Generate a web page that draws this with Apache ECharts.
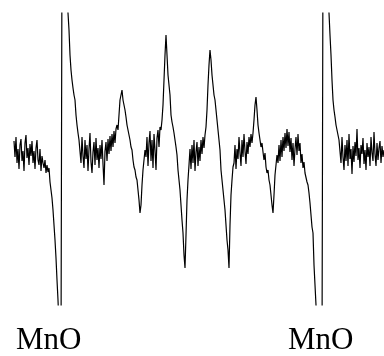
<!DOCTYPE html>
<html>
<head>
<meta charset="utf-8">
<script src="https://cdn.jsdelivr.net/npm/echarts@6/dist/echarts.min.js"></script>
<style>
  html, body { margin: 0; padding: 0; background: #fff; }
  #chart { width: 384px; height: 356px; }
</style>
</head>
<body>
<div id="chart"></div>
<script>
// field axis starts here, one sample per field step
const fieldStart = 14
// EPR signal (arbitrary units, baseline ~ 0)
const signal = [
  // 14..46 noisy baseline
  14, -2, 18, -8, 6, -14, 10, 16, -6, 4, -16, 12, 20, -3, 7, -10, 11, -1, 14, -8, 4, -14, 7, 15, -5, -10, 6, -16, -1, -8, -13, -5, -18,
  // 47..61 first MnO line, low side
  -10, -17, -13, -27, -35, -43, -55, -70, -85, -103, -125, -145, -170, -190, -200,
  // 62..79 high side
  210, 230, 230, 230, 230, 180, 142, 125, 100, 85, 75, 67, 60, 55, 40, 30, 22, 15,
  // 80..116
  13, -8, 18, -1, -13, 15, -4, 10, -16, 6, 22, -7, -18, 3, 13, -10, 17, -5, 7, -13, 10, -4, 15, -9, -30, 4, 13, -6, 16, 1, 19, 4, 21, 8, 24, 12, 26,
  // 117..145 first hyperfine line
  30, 25, 40, 55, 60, 65, 55, 50, 45, 38, 30, 28, 20, 15, 8, 5, -5, -12, -15, -22, -25, -35, -45, -58, -50, -30, -15, -5, 5,
  // 146..160
  -2, 18, -11, 12, 24, -6, 15, -13, 21, 5, -15, 17, 25, 8, 28,
  // 161..189 second line
  25, 35, 50, 75, 100, 120, 100, 80, 70, 60, 40, 33, 28, 22, 15, 8, 0, -15, -25, -35, -50, -65, -78, -100, -113, -80, -45, -25, -10,
  // 190..205
  6, -14, 10, -8, 15, -16, 3, 13, -11, 8, -6, 15, 1, 18, 7, 20,
  // 206..233 third line
  28, 45, 70, 90, 105, 95, 80, 70, 60, 55, 45, 35, 25, 15, 5, -15, -25, -35, -45, -55, -70, -85, -95, -113, -70, -40, -25, -12,
  // 234..253
  -8, 10, -14, 6, -4, 18, 2, -11, 15, -2, 21, 4, -9, 13, 1, 18, 8, 21, 12, 22,
  // 254..277 fourth line
  35, 50, 58, 45, 30, 22, 20, 8, 12, 3, -5, 2, -12, -18, -15, -25, -30, -40, -50, -58, -40, -20, -10, 0,
  // 278..312
  -8, 10, -6, 15, -2, 18, 4, 22, 7, 26, 9, 23, 3, 17, -5, 12, -11, 6, 18, 0, 21, 4, 12, -8, 1, -13, -7, -18, -20, -27, -30, -38, -48, -60, -72,
  // 313..322 second MnO line, low side
  -78, -110, -130, -150, -170, -190, -200, -200, -200, -200,
  // 323..339 high side
  210, 230, 230, 230, 190, 165, 142, 120, 100, 75, 55, 45, 38, 30, 25, 20, 15,
  // 340..384
  13, -8, 18, -2, -15, 10, -6, 15, -11, 21, -4, 6, -19, 9, -7, 13, -1, 26, -5, 7, -13, 10, 1, 17, -9, 5, -15, 12, -2, 8, -11, 18, 2, -6, 23, 1, -11, 12, -5, 7, 14, -8, 9, -2, 5
]
const labels = ['MnO', 'MnO']

const chart = echarts.init(document.getElementById('chart'))
chart.setOption({
  animation: false,
  grid: { left: 0, right: 0, top: 13, bottom: 51 },
  xAxis: { type: 'value', min: 0, max: 384, show: false },
  yAxis: { type: 'value', min: -150, max: 142, show: false },
  series: [
    {
      type: 'line',
      data: signal.map((v, i) => [fieldStart + i, v]),
      showSymbol: false,
      clip: true,
      lineStyle: { color: '#000', width: 1.2 },
    },
  ],
  graphic: [
    {
      type: 'text', left: 16, top: 325,
      style: { text: labels[0], font: '31px "Liberation Serif"', fill: '#000' },
    },
    {
      type: 'text', left: 288, top: 325,
      style: { text: labels[1], font: '31px "Liberation Serif"', fill: '#000' },
    },
  ],
})
</script>
</body>
</html>
